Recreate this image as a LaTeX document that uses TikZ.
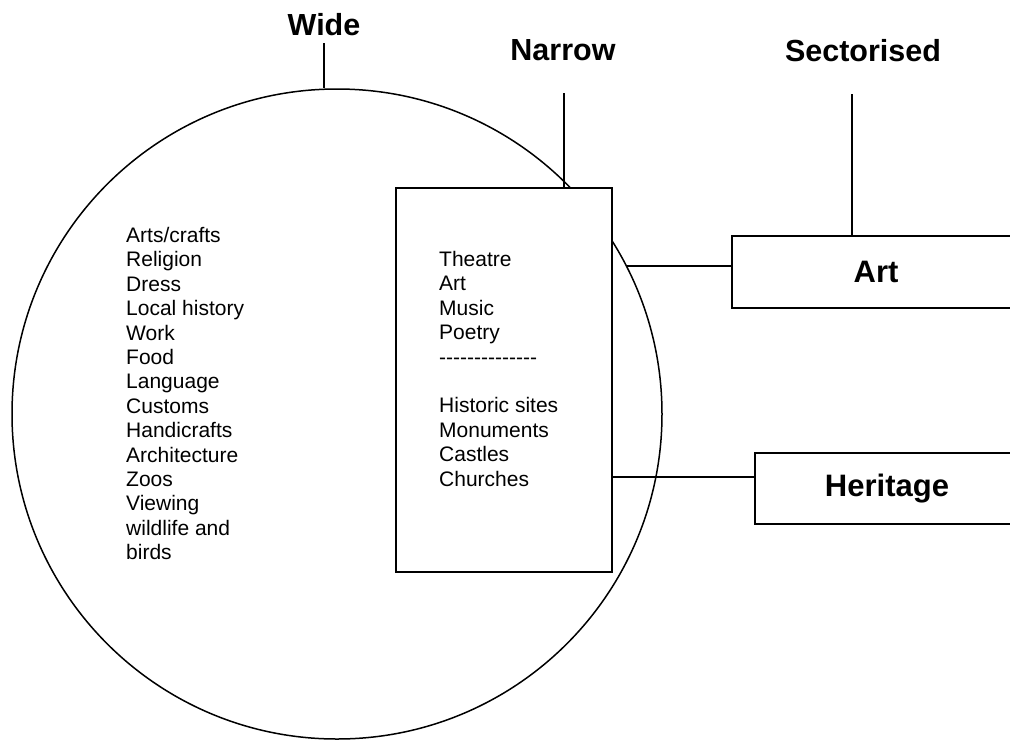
\documentclass[tikz,border=0pt]{standalone}
\usepackage{fontspec}
\setmainfont{Liberation Sans}
\begin{document}
\begin{tikzpicture}[x=1pt,y=-1pt,
    scopeLabel/.style={font=\fontsize{30.5}{36}\selectfont\bfseries,inner sep=0pt},
    listText/.style={font=\fontsize{21}{24.4}\selectfont,align=left,inner sep=0pt,anchor=north west},
    sectorBox/.style={draw,line width=1.7pt,fill=white,font=\fontsize{31}{36}\selectfont\bfseries},
    linkLine/.style={line width=1.4pt},
]
\useasboundingbox (0,0) rectangle (1010,740);
\clip (0,0) rectangle (1010,740);
% Headings
\node[scopeLabel] (wideLbl) at (324,25) {Wide};
\node[scopeLabel] (narrowLbl) at (563,50) {Narrow};
\node[scopeLabel] (sectLbl) at (863,51) {Sectorised};
% Wide circle
\node[draw,circle,minimum size=650pt,inner sep=0pt,line width=1.5pt] (wide) at (337,414) {};
\node[listText] (wideList) at (126,227) {Arts/crafts\\Religion\\Dress\\Local history\\Work\\Food\\Language\\Customs\\Handicrafts\\Architecture\\Zoos\\Viewing\\wildlife and\\birds};
% Narrow box
\node[draw,fill=white,line width=1.7pt,minimum width=216pt,minimum height=384pt] (narrow) at (504,380) {};
\node[listText] (narrowList) at (439,251) {Theatre\\Art\\Music\\Poetry\\-{}-{}-{}-{}-{}-{}-{}-{}-{}-{}-{}-{}-{}-\\[24.4pt]Historic sites\\Monuments\\Castles\\Churches};
% Sectorised boxes
\node[sectorBox,minimum width=288pt,minimum height=72pt] (art) at (876,272) {Art};
\node[sectorBox,minimum width=264pt,minimum height=71pt] (heritage) at (887,488.5) {Heritage};
% Links
\coordinate (narrowTop) at (564,93);
\coordinate (sectTop) at (852,94);
\coordinate (herLink) at (612,477);
\draw[linkLine] (wideLbl.south |- 0,43) -- (wideLbl.south |- wide.north);
\draw[linkLine] (narrowTop) -- (narrowTop |- narrow.north);
\draw[linkLine] (sectTop) -- (sectTop |- art.north);
\draw[linkLine] (wide.27.9) -- (wide.27.9 -| art.west);
\draw[linkLine] (herLink) -- (herLink -| heritage.west);
\end{tikzpicture}
\end{document}
